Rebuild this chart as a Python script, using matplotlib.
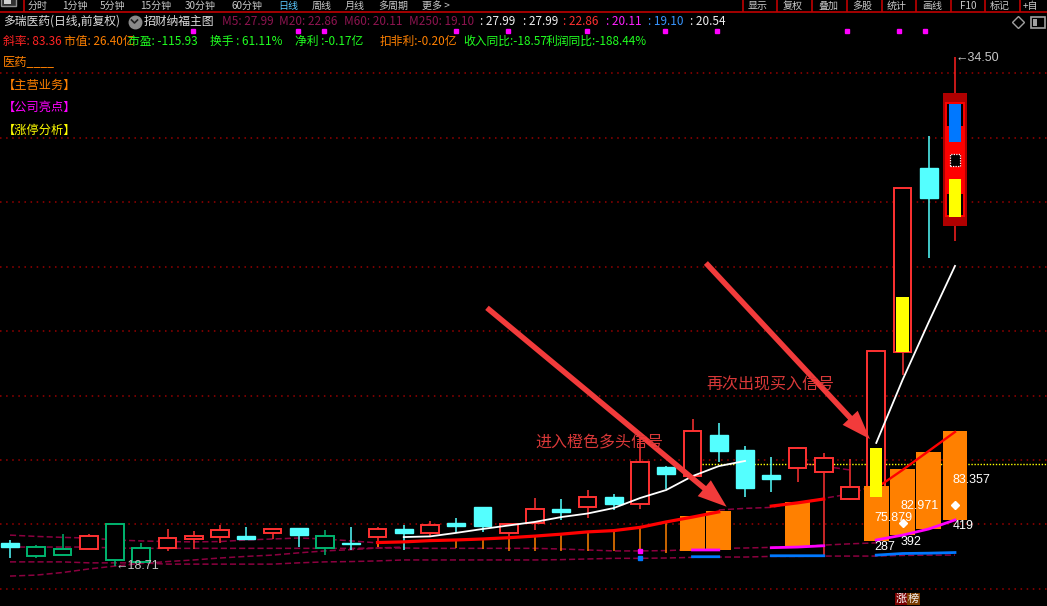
import matplotlib
matplotlib.use("Agg")
import matplotlib.pyplot as plt
from matplotlib.patches import Rectangle
import numpy as np

plt.rcParams["font.family"] = ["Noto Sans CJK SC", "DejaVu Sans"]

W, H = 1047, 606
N = 37
nan = np.nan

# ---- daily candles (price) ----
kinds = ["c", "g", "g", "r", "g", "g", "r", "r", "r", "c", "r", "c", "g", "c", "r", "c", "r", "c", "c",
         "r", "r", "c", "r", "c", "r", "c", "r", "c", "c", "c", "r", "r", "r", "r", "r", "c", "r"]
opens = [19.43, 19.01, 19.04, 19.23, 18.89, 18.83, 19.26, 19.56, 19.60, 19.63, 19.73, 19.88, 19.28,
         19.44, 19.60, 19.86, 19.75, 20.05, 20.54, 19.75, 20.04, 20.48, 20.53, 20.85, 20.63, 21.77,
         21.51, 22.78, 22.31, 21.54, 21.76, 21.64, 20.80, 20.76, 25.36, 31.06, 29.57]
highs = [19.52, 19.35, 19.71, 19.71, 20.01, 19.42, 19.85, 19.79, 19.98, 19.91, 19.85, 19.88, 19.82,
         19.91, 19.91, 19.98, 20.10, 20.20, 20.54, 20.01, 20.82, 20.79, 21.07, 20.95, 22.84, 21.81,
         23.27, 23.15, 22.44, 22.08, 22.40, 22.22, 22.03, 25.37, 30.43, 32.05, 34.50]
lows = [18.97, 18.97, 19.04, 19.23, 18.71, 18.83, 19.19, 19.25, 19.42, 19.54, 19.56, 19.31, 19.06,
        19.22, 19.31, 19.22, 19.62, 19.75, 19.78, 19.58, 19.84, 20.14, 20.19, 20.45, 20.49, 21.10,
        21.51, 21.94, 20.86, 21.02, 21.33, 19.03, 20.76, 20.76, 24.65, 28.28, 28.80]
closes = [19.31, 19.29, 19.23, 19.63, 20.01, 19.26, 19.57, 19.63, 19.82, 19.56, 19.85, 19.67, 19.63,
          19.40, 19.85, 19.75, 19.98, 19.96, 19.96, 20.01, 20.47, 20.40, 20.84, 20.65, 21.93, 21.58,
          22.89, 22.29, 21.14, 21.42, 22.36, 22.05, 21.15, 25.37, 30.43, 30.14, 33.07]


def seg(start, vals):
    arr = np.full(N, nan)
    arr[start:start + len(vals)] = vals
    return arr


# ---- indicator lines ----
white_a = seg(15, [19.61, 19.63, 19.74, 19.86, 19.97, 20.08, 20.23, 20.34, 20.51, 20.82, 21.07,
                   21.50, 21.81, 21.97])
white_b = seg(33, [22.53, 24.48, 26.28, 28.02])
red_ma = seg(14, [19.44, 19.46, 19.50, 19.52, 19.55, 19.59, 19.64, 19.70, 19.77, 19.81, 19.91,
                  20.08, 20.23, 20.39, nan, 20.57, 20.67, 20.79])
red_thin = seg(33, [21.13, 21.69, 22.28, 22.87])
magenta = seg(26, [19.21, 19.21, nan, 19.28, 19.30, 19.34, nan, 19.52, 19.67, 19.86, 20.14])
blue = seg(26, [19.00, 19.00, nan, 19.03, 19.03, 19.03, nan, 19.05, 19.10, 19.11, 19.13])
dot_idx = [24]
dot_mag = [19.18]
dot_blue = [18.97]

# histogram
thin_idx = [14, 17, 18, 19, 20, 21, 22, 23, 24, 25]
thin_base = [19.30, 19.26, 19.23, 19.19, 19.19, 19.17, 19.17, 19.17, 19.16, 19.13]
wide_idx = [26, 27, 30, 33, 34, 35, 36]
wide_top = [20.26, 20.42, 20.70, 21.19, 21.72, 22.26, 22.90]
wide_bot = [19.19, 19.21, 19.30, 19.49, 19.67, 19.86, 20.14]

# dashed moving averages
dash_a = seg(0, [19.67, 19.63, 19.60, 19.58, 19.52, 19.49, 19.47, 19.46, 19.47, 19.52, 19.55,
                 19.58, 19.55, 19.49, 19.43])
dash_b = seg(0, [19.30, 19.30, 19.30, 19.30, 19.27, 19.26, 19.26, 19.26, 19.26, 19.26, 19.26,
                 19.26, 19.26, 19.26, 19.27, 19.27, 19.26, 19.26, 19.26, 19.26, 19.26, 19.24,
                 19.21, 19.18, 19.18, 19.19, 19.22, 19.26, 19.27, 19.29, 19.32, 19.36, 19.40, 19.43])
dash_c = seg(0, [18.84, 18.84, 18.84, 18.81, 18.81, 18.81, 18.77, 18.77, 18.77, 18.77, 18.77,
                 18.81, 18.84, 18.85, 18.87, 18.90, 18.90, 18.90, 18.90, 18.90, 18.90, 18.91,
                 18.93, 18.95, 18.95, 18.96, 18.98, 18.99, 18.99, 19.01, 19.01, 19.02, 19.02,
                 19.02, 19.04, 19.05, 19.05])
dash_d = seg(0, [18.40, 18.43, 18.51, 18.62, 18.71, 18.79, 18.85, 18.90, 18.96, 19.01, 19.05,
                 19.12, 19.18, 19.22, 19.27, 19.30])
dash_e = seg(27, [20.45, 20.50, 20.53, 20.67, 20.81, 20.95, 21.23])
dash_f = seg(30, [21.91, 21.81, 21.69])

yellow_level = 21.88
yellow_start = 26.35

# signal overlays
sig_idx = [33, 34, 36]
sig_lo = [20.85, 25.36, 29.55]
sig_hi = [22.37, 27.06, 30.72]

grid_prices = [34, 32, 30, 28, 26, 24, 22, 20, 18]

val_idx = [33, 34, 36]
val_txt = ["75.879", "82.971", "83.357"]
val_y = [20.20, 20.57, 21.38]
cnt_txt = ["287", "392", "419"]
cnt_y = [19.30, 19.46, 19.95]
dia_idx = [34, 36]
dia_y = [20.06, 20.61]

RED = "#FF3232"
CYAN = "#54FFFF"
GREEN = "#00B46E"
ORANGE = "#FF8000"
x = np.arange(N)

fig = plt.figure(figsize=(W / 100, H / 100), dpi=100, facecolor="black")
ax = fig.add_axes([0, 0, 1, 1])
ax.set_xlim(-10 / 26.25, (W - 10) / 26.25)
ax.set_ylim(34.5 - (H - 57) / 32.24, 34.5 + 57 / 32.24)
ax.axis("off")

for g in grid_prices:
    ax.axhline(g, color="#9A0000", lw=1.1, ls=(0, (1, 3)), zorder=1)

for d in [dash_a, dash_b, dash_c, dash_d, dash_e, dash_f]:
    ax.plot(x, d, color="#8C0040", lw=1.1, ls=(0, (4, 2)), zorder=2)

ax.hlines(yellow_level, yellow_start, ax.get_xlim()[1], color="#FFFF00", lw=1.0,
          ls=(0, (1, 1.2)), zorder=2)

# candles
bw = 0.68
for i in range(N - 1):
    o, h, l, c, k = opens[i], highs[i], lows[i], closes[i], kinds[i]
    lo, hi = min(o, c), max(o, c)
    col = {"r": RED, "c": CYAN, "g": GREEN}[k]
    if k == "c":
        ax.vlines(i, l, h, color=col, lw=1.1, zorder=3)
        ax.add_patch(Rectangle((i - bw / 2, lo), bw, max(hi - lo, 0.02), fc=col, ec=col,
                               lw=1.0, zorder=3))
    else:
        ax.vlines(i, hi, h, color=col, lw=1.1, zorder=3)
        ax.vlines(i, l, lo, color=col, lw=1.1, zorder=3)
        ax.add_patch(Rectangle((i - bw / 2, lo), bw, hi - lo, fc="black", ec=col,
                               lw=1.4, zorder=3))

# last candle with its marker box
j = N - 1
ax.vlines(j, lows[j], highs[j], color="#FF2020", lw=1.1, zorder=3)
ax.add_patch(Rectangle((j - 0.475, 29.27), 0.95, 33.39 - 29.27, fc="#B00000", ec="none", zorder=7))
ax.add_patch(Rectangle((j - 0.34, opens[j]), 0.68, closes[j] - opens[j], fc="black", ec="#FF0000",
                       lw=1.4, zorder=7))
ax.add_patch(Rectangle((j - 0.36, 30.25), 0.72, 32.36 - 30.25, fc="#FF0000", ec="none", zorder=7))
ax.add_patch(Rectangle((j - 0.21, 31.87), 0.42, 33.04 - 31.87, fc="#0078FF", ec="none", zorder=8))
ax.add_patch(Rectangle((j - 0.19, 31.13), 0.38, 31.49 - 31.13, fc="black", ec="white", lw=0.9,
                       ls=(0, (1, 1)), zorder=8))

# histogram
ax.vlines(thin_idx, thin_base, red_ma[thin_idx], color=ORANGE, lw=1.1, zorder=4)
ax.bar(wide_idx, np.array(wide_top) - np.array(wide_bot), bottom=wide_bot, width=0.952,
       color=ORANGE, lw=0, zorder=4)

ax.plot(x, red_ma, color="#FF0000", lw=2.3, zorder=5)
ax.plot(x, red_thin, color="#FF0000", lw=1.7, zorder=5)
ax.plot(x, magenta, color="#FF00FF", lw=2.0, zorder=5)
ax.plot(x, blue, color="#0078FF", lw=2.0, zorder=5)
ax.plot(dot_idx, dot_mag, "s", color="#FF00FF", ms=2.2, zorder=5)
ax.plot(dot_idx, dot_blue, "s", color="#0078FF", ms=2.2, zorder=5)

ax.plot(x, white_a, color="white", lw=1.3, zorder=6)
ax.plot(x, white_b, color="white", lw=1.3, zorder=6)

for i, lo, hi in zip(sig_idx, sig_lo, sig_hi):
    w = 0.46 if i != N - 1 else 0.42
    ax.add_patch(Rectangle((i - w / 2, lo), w, hi - lo, fc="#FFFF00", ec="none", zorder=8))

lab_font = {"family": ["Liberation Sans", "DejaVu Sans"], "size": 9}
for i, t, yv in zip(val_idx, val_txt, val_y):
    ax.text(i - 0.09, yv, t, color="white", va="center", ha="left", fontdict=lab_font, zorder=9)
for i, t, yv in zip(val_idx, cnt_txt, cnt_y):
    ax.text(i - 0.09, yv, t, color="white", va="center", ha="left", fontdict=lab_font, zorder=9)
ax.plot(dia_idx, dia_y, "D", color="white", ms=4, zorder=9)

# high / low marks
ax.text(N - 1 + 0.02, 34.47, "←34.50", color="#C8C8C8", va="center", ha="left",
        fontdict=lab_font, zorder=9)
ax.text(4.0, 18.70, "←18.71", color="#C8C8C8", va="center", ha="left",
        fontdict=lab_font, zorder=9)

# arrows + notes
arrow_kw = dict(arrowstyle="simple,head_width=1.35,head_length=1.9,tail_width=0.36",
                mutation_scale=11, color="#F23B3B", lw=0, shrinkA=0, shrinkB=0)
ax.annotate("", xy=(27.3, 20.55), xytext=(18.17, 26.72), arrowprops=arrow_kw, zorder=10)
ax.annotate("", xy=(32.76, 22.65), xytext=(26.51, 28.11), arrowprops=arrow_kw, zorder=10)
ax.text(20.0, 22.53, "进入橙色多头信号", color="#D83838", fontsize=11.5, va="center",
        ha="left", zorder=10)
ax.text(26.51, 24.33, "再次出现买入信号", color="#D83838", fontsize=11.5, va="center",
        ha="left", zorder=10)

# ---- window chrome (pixel coords) ----
ui = fig.add_axes([0, 0, 1, 1], facecolor="none")
ui.set_xlim(0, W)
ui.set_ylim(H, 0)
ui.axis("off")


def label(xp, yp, s, color, size=8.5, **kw):
    ui.text(xp, yp, s, color=color, fontsize=size, va="center", ha="left", **kw)


ui.add_patch(Rectangle((1, -4), 15, 10, fc="#303030", ec="#909090", lw=1))
ui.add_patch(Rectangle((4, -3), 7, 7, fc="#D0D0D0", ec="none"))
ui.vlines(24, 0, 12, color="#C00000", lw=1.2)
menu = [(28, "分时"), (62, "1分钟"), (100, "5分钟"), (140, "15分钟"), (185, "30分钟"),
        (232, "60分钟"), (278, "日线"), (312, "周线"), (345, "月线"), (378, "多周期"), (422, "更多 >")]
for xp, s in menu:
    label(xp, 6, s, "#5AC8FF" if s == "日线" else "#C8C8C8", size=7.2)
ui.vlines([743, 777, 812, 847, 882, 916, 951, 985, 1020], 0, 12, color="#C00000", lw=1.2)
for xp, s in [(748, "显示"), (783, "复权"), (818, "叠加"), (852, "多股"), (887, "统计"),
              (922, "画线"), (960, "F10"), (990, "标记"), (1023, "+自")]:
    label(xp, 6, s, "#C8C8C8", size=7.2)
ui.hlines(12, 0, W, color="#C00000", lw=1.2)

label(3, 21.5, "多瑞医药(日线,前复权)", "#DCDCDC")
ui.plot(134.5, 21.5, "o", ms=9, color="#8A8A8A")
ui.plot([131.5, 134.5, 137.5], [20, 23, 20], color="#202020", lw=1.2)
label(144, 21.5, "招财纳福主图", "#DCDCDC")
MA_COL = "#8E1450"
label(222, 21.5, "M5: 27.99", MA_COL)
label(279, 21.5, "M20: 22.86", MA_COL)
label(344, 21.5, "M60: 20.11", MA_COL)
label(409, 21.5, "M250: 19.10", MA_COL)
label(480, 21.5, ": 27.99", "#F0F0F0")
label(523, 21.5, ": 27.99", "#F0F0F0")
label(563, 21.5, ": 22.86", "#FF3030")
label(606, 21.5, ": 20.11", "#FF20FF")
label(648, 21.5, ": 19.10", "#3896FF")
label(690, 21.5, ": 20.54", "#F0F0F0")
ui.plot(1018, 22, "D", ms=6.5, mfc="none", mec="#A0A0A0", mew=1)
ui.add_patch(Rectangle((1031, 16.5), 14, 11, fc="none", ec="#A0A0A0", lw=1.2))
ui.add_patch(Rectangle((1033, 18.5), 4, 7, fc="#A0A0A0", ec="none"))

GRN = "#20FF20"
label(3, 41, "斜率: 83.36", "#FF2424")
label(64, 41, "市值: 26.40亿", ORANGE)
label(128, 41, "市盈: -115.93", GRN)
label(210, 41, "换手 : 61.11%", GRN)
label(295, 41, "净利 :-0.17亿", GRN)
label(380, 41, "扣非利:-0.20亿", ORANGE)
label(463, 41, "收入同比:-18.57", GRN)
label(546, 41, "利润同比:-188.44%", GRN)
ui.plot([193, 298, 324, 456, 508, 587, 665, 717, 847, 899, 925], [31] * 11, "s",
        color="#FF00FF", ms=3)

label(3, 62, "医药____", ORANGE, size=8.8)
label(3, 85, "【主营业务】", ORANGE, size=8.8)
label(3, 107.5, "【公司亮点】", "#FF00FF", size=8.8)
label(3, 130, "【涨停分析】", "#FFFF00", size=8.8)

ui.text(896, 599, "涨", color="white", fontsize=8, va="center", ha="left",
        bbox=dict(boxstyle="square,pad=0.1", fc="#7A0000", ec="none"))
ui.text(908, 599, "榜", color="#F0F0F0", fontsize=8, va="center", ha="left",
        bbox=dict(boxstyle="square,pad=0.1", fc="#7A3C00", ec="none"))

fig.savefig("out.png", dpi=100, facecolor="black")
